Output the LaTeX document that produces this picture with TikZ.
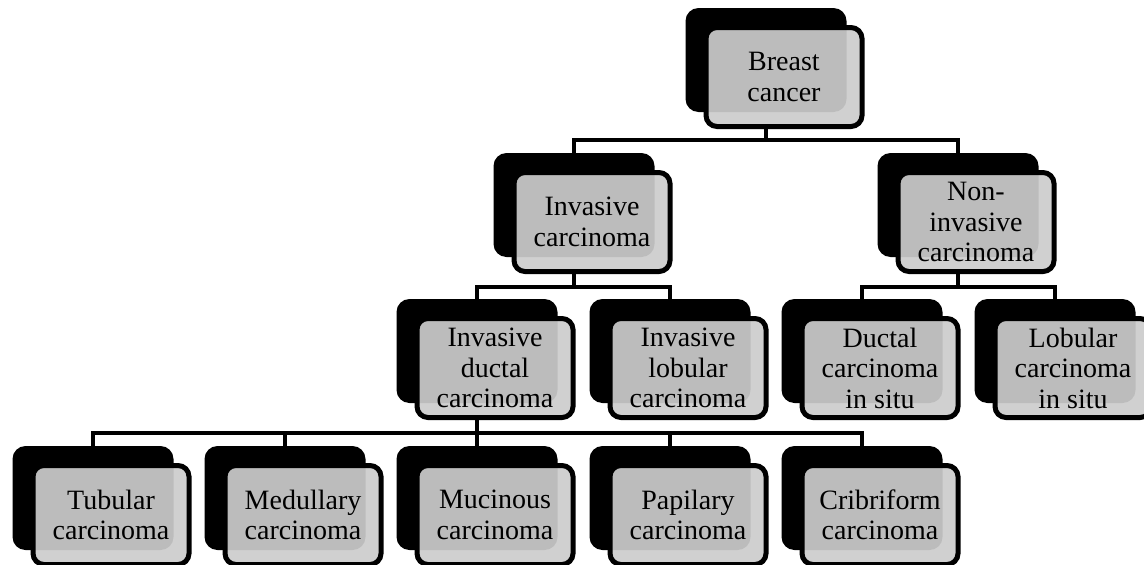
\documentclass[tikz,border=0pt]{standalone}
\usepackage{fontspec}
\setmainfont{Liberation Serif}
\pgfdeclarelayer{background}
\pgfsetlayers{background,main}
\definecolor{boxgray}{RGB}{204,204,204}
\begin{document}
\begin{tikzpicture}[x=1pt,y=-1pt,
  backbox/.style={fill=black, rounded corners=13pt, minimum width=161pt,
    minimum height=104pt, inner sep=0pt, outer sep=0pt},
  frontbox/.style={draw=black, line width=5pt, fill=boxgray, fill opacity=0.92,
    text opacity=1, rounded corners=11pt, minimum width=156pt, minimum height=99pt,
    inner sep=0pt, align=center, font=\fontsize{28}{30.5}\selectfont},
  link/.style={line width=4pt, draw=black}
]
\useasboundingbox (0,0) rectangle (1144,565);

% a shadowed box: black plate behind, grey card in front
\newcommand\tbox[4]{%
  \node[backbox] (#1b) at (#2,#3+52) {};
  \node[frontbox] (#1) at (#2+18,#3+69) {#4};}

% level 1
\tbox{bc}{766}{8}{Breast\\cancer}
% level 2
\tbox{ic}{574}{153}{Invasive\\carcinoma}
\tbox{nic}{958}{153}{Non-\\invasive\\carcinoma}
% level 3
\tbox{idc}{477}{299}{Invasive\\ductal\\carcinoma}
\tbox{ilc}{670}{299}{Invasive\\lobular\\carcinoma}
\tbox{dcis}{862}{299}{Ductal\\carcinoma\\in situ}
\tbox{lcis}{1055}{299}{Lobular\\carcinoma\\in situ}
% level 4
\tbox{tub}{93}{446}{Tubular\\carcinoma}
\tbox{med}{285}{446}{Medullary\\carcinoma}
\tbox{muc}{477}{446}{Mucinous\\carcinoma}
\tbox{pap}{670}{446}{Papilary\\carcinoma}
\tbox{cri}{862}{446}{Cribriform\\carcinoma}

% horizontal bus lines
\coordinate (busA) at (0,140);
\coordinate (busB) at (0,287);
\coordinate (busC) at (0,433);

\begin{pgfonlayer}{background}
  % breast cancer -> invasive / non-invasive
  \draw[link] (bc.south -| bcb.south) -- (bcb.south |- busA) -| (icb.north);
  \draw[link] (bcb.south |- busA) -| (nicb.north);
  % invasive -> ductal / lobular
  \draw[link] (ic.south -| icb.south) -- (icb.south |- busB) -| (idcb.north);
  \draw[link] (icb.south |- busB) -| (ilcb.north);
  % non-invasive -> in situ types
  \draw[link] (nic.south -| nicb.south) -- (nicb.south |- busB) -| (dcisb.north);
  \draw[link] (nicb.south |- busB) -| (lcisb.north);
  % invasive ductal -> subtypes
  \draw[link] (idc.south -| idcb.south) -- (idcb.south |- busC) -| (tubb.north);
  \draw[link] (idcb.south |- busC) -| (medb.north);
  \draw[link] (idcb.south |- busC) -- (mucb.north);
  \draw[link] (idcb.south |- busC) -| (papb.north);
  \draw[link] (idcb.south |- busC) -| (crib.north);
\end{pgfonlayer}
\end{tikzpicture}
\end{document}
